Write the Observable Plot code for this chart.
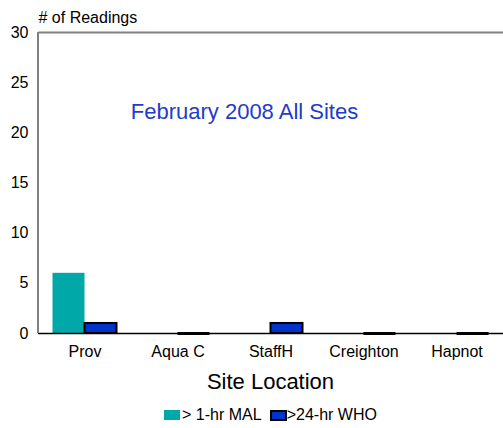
<!DOCTYPE html>
<html><head><meta charset="utf-8">
<script src="https://cdn.jsdelivr.net/npm/d3@7"></script>
<script src="https://cdn.jsdelivr.net/npm/@observablehq/plot@0.6"></script>
<style>
body{margin:0;background:#fff;font-family:"Liberation Sans",Arial,sans-serif;color:#000;}
#chart svg{display:block;}
#xlabel{margin-left:38px;width:465px;margin-top:3px;height:28px;line-height:28px;text-align:center;font-size:22px;}
#legend{margin-left:38px;width:465px;margin-top:9px;height:20px;line-height:20px;display:flex;justify-content:center;align-items:center;font-size:16px;}
.sw{display:inline-block;box-sizing:border-box;}
</style></head>
<body><div id="chart"></div><div id="xlabel"></div><div id="legend"></div>
<script>
const sites = ["Prov", "Aqua C", "StaffH", "Creighton", "Hapnot"];
const mal = [6, 0, 0, 0, 0];
const who = [1, 0, 1, 0, 0];
const yTicks = [0, 5, 10, 15, 20, 25, 30];
const seriesNames = ["> 1-hr MAL", ">24-hr WHO"];
const title = "February 2008 All Sites";
const yLabel = "# of Readings";
const xLabel = "Site Location";

const malData = sites.map((s, i) => ({site: s, value: mal[i]}));
const whoData = sites.map((s, i) => ({site: s, value: who[i]}));

const chart = Plot.plot({
  width: 503, height: 365,
  marginLeft: 38, marginRight: 0, marginTop: 32, marginBottom: 32,
  style: {fontFamily: "Liberation Sans, Arial, sans-serif", fontSize: "16px", background: "white", color: "black"},
  x: {domain: sites, padding: 0, label: null, tickSize: 0, tickPadding: 12},
  y: {domain: [0, 30], ticks: yTicks, label: null, tickSize: 0, tickPadding: 10},
  marks: [
    Plot.ruleY([30], {stroke: "#808080", strokeWidth: 2}),
    Plot.barY(malData, {x: "site", y: "value", fill: "#00A8A8", insetLeft: 14.5, insetRight: 46.5}),
    Plot.barY(whoData, {x: "site", y: "value", fill: "#0033CC", stroke: "black", strokeWidth: 2, insetLeft: 46.5, insetRight: 14.5}),
    Plot.ruleY([0], {stroke: "black", strokeWidth: 1.5}),
    Plot.tickY(whoData, {filter: d => d.value === 0, x: "site", y: "value", stroke: "black", strokeWidth: 3, insetLeft: 46.5, insetRight: 14.5}),
    Plot.text([title], {frameAnchor: "top", lineAnchor: "middle", dx: -26.5, dy: 79, fill: "#1E3CCC", fontSize: 22}),
    Plot.text([yLabel], {frameAnchor: "top-left", lineAnchor: "middle", dx: 0, dy: -15, textAnchor: "start", fontSize: 16})
  ]
});
document.getElementById("chart").appendChild(chart);
const xs = chart.scale("x"), ys = chart.scale("y");
const x0 = xs.range[0];
d3.select(chart).append("line")
  .attr("x1", x0).attr("x2", x0)
  .attr("y1", ys.apply(30)).attr("y2", ys.apply(0))
  .attr("stroke", "#808080").attr("stroke-width", 2);

document.getElementById("xlabel").textContent = xLabel;
const leg = d3.select("#legend");
leg.append("span").attr("class", "sw").style("width", "16px").style("height", "10px").style("background", "#00A8A8").style("margin-right", "2px");
leg.append("span").text(seriesNames[0]).style("margin-right", "8px");
leg.append("span").attr("class", "sw").style("width", "17px").style("height", "11px").style("background", "#0033CC").style("border", "2px solid #000");
leg.append("span").text(seriesNames[1]);
</script></body></html>
